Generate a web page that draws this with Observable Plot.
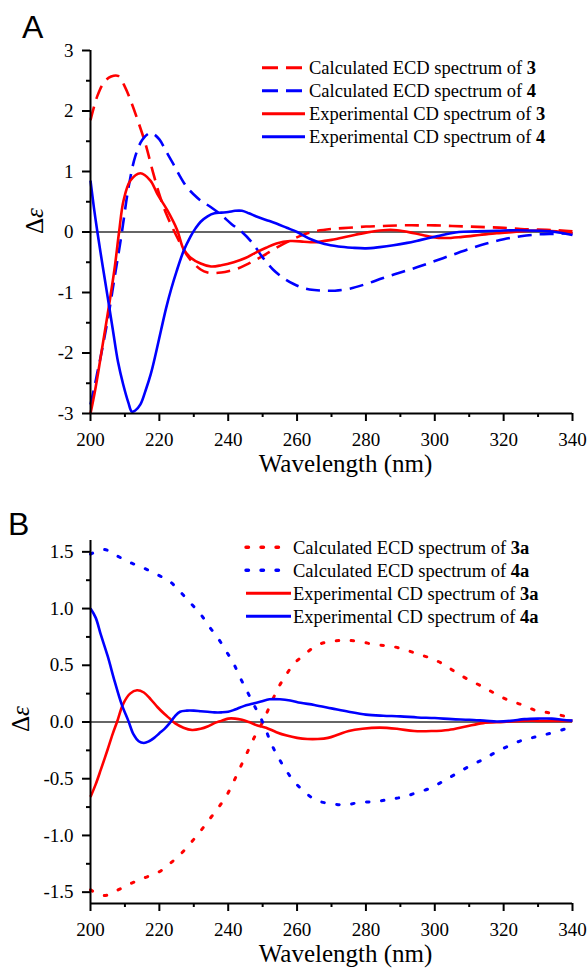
<!DOCTYPE html>
<html><head><meta charset="utf-8">
<script src="https://cdn.jsdelivr.net/npm/d3@7"></script>
<script src="https://cdn.jsdelivr.net/npm/@observablehq/plot@0.6"></script>
<style>
body{margin:0;background:#fff}
#wrap{position:relative;width:588px;height:971px;overflow:hidden;background:#fff}
.panel{position:absolute;left:0}
</style>
</head><body><div id="wrap"></div>
<script>
// ---------- axis ticks ----------
const xDomain = [200, 340];
const xMajor = [200, 220, 240, 260, 280, 300, 320, 340];
const xMinor = [210, 230, 250, 270, 290, 310, 330];
const xTitle = "Wavelength (nm)";
const yDomainA = [-3, 3];
const yMajorA = [-3, -2, -1, 0, 1, 2, 3];
const yMinorA = [-2.5, -1.5, -0.5, 0.5, 1.5, 2.5];
const yDomainB = [-1.6, 1.6];
const yMajorB = [-1.5, -1.0, -0.5, 0.0, 0.5, 1.0, 1.5];
const yMinorB = [-1.25, -0.75, -0.25, 0.25, 0.75, 1.25];

// ---------- Panel A data ----------
const wA_calc3 = [200,202,204,206,208,210,212,214,216,218,220,222,224,226,228,230,232,234,236,238,240,243,246,250,254,258,262,266,270,275,280,285,290,295,300,305,310,315,320,325,330,335,340];
const vA_calc3 = [1.85,2.25,2.48,2.57,2.58,2.40,2.12,1.80,1.45,1.02,0.62,0.30,0.05,-0.18,-0.38,-0.52,-0.62,-0.67,-0.68,-0.67,-0.65,-0.60,-0.52,-0.40,-0.26,-0.14,-0.04,0.02,0.05,0.07,0.09,0.10,0.11,0.11,0.11,0.10,0.09,0.08,0.07,0.05,0.04,0.03,0.01];

const wA_calc4 = [200,201,202,203,205,207,209,211,213,215,217,218,220,222,224,226,228,230,232,235,238,241,244,247,250,253,256,259,262,265,268,271,275,280,285,290,295,300,305,310,315,320,325,330,335,340];
const vA_calc4 = [-2.85,-2.6,-2.32,-2.05,-1.45,-0.75,-0.05,0.72,1.25,1.52,1.63,1.63,1.53,1.33,1.13,0.92,0.74,0.62,0.52,0.41,0.28,0.13,0.0,-0.18,-0.42,-0.62,-0.76,-0.86,-0.93,-0.96,-0.97,-0.97,-0.94,-0.86,-0.76,-0.67,-0.58,-0.48,-0.38,-0.28,-0.19,-0.12,-0.07,-0.04,-0.03,-0.02];

const wA_exp3 = [200,201,202,203,205,207,208.3,209.6,211.6,214.5,217.4,219.4,222.3,225.2,227,229,232,235,238,241.6,245,248,251,254,258,262,265,270,275,280,285,289,294,299,303,308,313,318,323,328,333,337,340];
const vA_exp3 = [-3.0,-2.72,-2.4,-2.05,-1.35,-0.6,0.0,0.52,0.85,0.97,0.85,0.63,0.36,0.03,-0.28,-0.42,-0.52,-0.57,-0.55,-0.5,-0.43,-0.34,-0.26,-0.19,-0.15,-0.16,-0.17,-0.13,-0.07,-0.01,0.03,0.03,-0.02,-0.08,-0.1,-0.08,-0.05,-0.02,0.0,0.02,0.02,0.0,-0.02];

const wA_exp4 = [200,201,202,203.5,205,206.5,208,209.5,211,212,213,214.5,216,217.5,219,220.5,222,223.5,225,227,229,230.5,232,234,236,238,240,242,244,246,248,251,254,257,260,264,268,272,276,280,284,288,292,296,300,304,307,312,318,324,330,335,340];
const vA_exp4 = [0.85,0.4,0.0,-0.55,-1.08,-1.62,-2.15,-2.52,-2.82,-2.97,-2.95,-2.85,-2.62,-2.35,-2.0,-1.62,-1.25,-0.93,-0.65,-0.32,-0.08,0.06,0.17,0.26,0.31,0.32,0.33,0.35,0.35,0.31,0.26,0.2,0.14,0.07,0.0,-0.12,-0.2,-0.24,-0.26,-0.27,-0.25,-0.22,-0.18,-0.13,-0.08,-0.03,0.0,0.01,0.02,0.03,0.02,0.0,-0.05];

// ---------- Panel B data ----------
const wB_calc3a = [200,204,208,212,216,220,223,226,229,232,234.5,237,239.5,241.5,243.5,245.5,247.5,250,252.5,254.5,256.5,259,262,266,270,274,278,283,287,291,295,299,302.5,306,310,314,317.5,321.5,325.5,329.5,333.5,338,340];
const vB_calc3a = [-1.48,-1.53,-1.48,-1.42,-1.37,-1.32,-1.25,-1.17,-1.07,-0.96,-0.86,-0.76,-0.65,-0.53,-0.40,-0.27,-0.14,0.0,0.17,0.30,0.40,0.51,0.59,0.68,0.71,0.72,0.71,0.68,0.67,0.64,0.60,0.56,0.51,0.44,0.37,0.31,0.25,0.19,0.15,0.10,0.08,0.05,0.04];

const wB_calc4a = [200,204,208,212,216,220,223,226,229,232,234.5,237,239.5,241.5,243.5,245.5,247.5,250,252.5,254.5,256.5,259,262,265.5,270,274,278,283,287,291,295,299,302.5,306,310,314,317.5,321.5,325.5,329.5,333.5,338,340];
const vB_calc4a = [1.48,1.52,1.46,1.40,1.35,1.29,1.24,1.15,1.05,0.95,0.84,0.74,0.62,0.52,0.39,0.27,0.15,0.0,-0.19,-0.31,-0.41,-0.52,-0.61,-0.69,-0.72,-0.73,-0.71,-0.70,-0.68,-0.66,-0.62,-0.58,-0.52,-0.46,-0.39,-0.33,-0.27,-0.21,-0.16,-0.13,-0.10,-0.06,-0.04];

const wB_exp3a = [200,201.5,203,205,206.5,207.7,209.5,211.5,213.5,215.5,217.5,219.5,221.5,223,224.5,227,229.5,232,234,236,238,240,242,244,246,248.5,251,254,257,260,263,266,269,272,275,279,284,289,294,299,304,309,314,320,325,330,335,340];
const vB_exp3a = [-0.66,-0.55,-0.42,-0.24,-0.1,0.0,0.16,0.25,0.28,0.26,0.2,0.13,0.07,0.03,-0.01,-0.05,-0.07,-0.06,-0.04,-0.01,0.01,0.03,0.03,0.02,0.0,-0.03,-0.05,-0.09,-0.12,-0.14,-0.15,-0.15,-0.14,-0.11,-0.08,-0.06,-0.05,-0.06,-0.08,-0.08,-0.07,-0.04,-0.01,0.0,0.01,0.01,0.01,0.01];

const wB_exp4a = [200,201.5,203,205,207,209,211,212.5,214,215.5,217,218.5,220,221.5,223,224.5,226,228,230,232,234,236,238,240,242,244.5,247,249.5,252,255,258,261,265,270,275,280,285,290,295,300,305,310,315,318,322,326,330,334,337,340];
const vB_exp4a = [1.0,0.92,0.77,0.58,0.36,0.16,0.01,-0.11,-0.17,-0.185,-0.17,-0.14,-0.1,-0.06,-0.01,0.05,0.09,0.1,0.1,0.095,0.09,0.085,0.085,0.09,0.11,0.14,0.16,0.18,0.2,0.2,0.19,0.17,0.15,0.12,0.09,0.065,0.055,0.05,0.04,0.035,0.025,0.02,0.01,0.005,0.01,0.025,0.03,0.03,0.02,0.012];

// ---------- legends ----------
const legendTextA = ["Calculated ECD spectrum of ", "Calculated ECD spectrum of ", "Experimental CD spectrum of ", "Experimental CD spectrum of "];
const legendBoldA = ["3", "4", "3", "4"];
const legendTextB = ["Calculated ECD spectrum of ", "Calculated ECD spectrum of ", "Experimental CD spectrum of ", "Experimental CD spectrum of "];
const legendBoldB = ["3a", "4a", "3a", "4a"];

const RED = "#ff0000", BLUE = "#0000ff";
const DASH = "14,8", DOT = "2.5,12.5";
const SERIF = "'Liberation Serif', 'Times New Roman', serif";

function seriesData(ws, vs) { return ws.map((w, i) => ({w, v: vs[i]})); }

const styleA = [
  {color: RED, dash: DASH, width: 2.6, cap: "butt"},
  {color: BLUE, dash: DASH, width: 2.6, cap: "butt"},
  {color: RED, dash: null, width: 2.6, cap: "butt"},
  {color: BLUE, dash: null, width: 2.6, cap: "butt"}
];
const styleB = [
  {color: RED, dash: DOT, width: 3, cap: "round"},
  {color: BLUE, dash: DOT, width: 3, cap: "round"},
  {color: RED, dash: null, width: 2.6, cap: "butt"},
  {color: BLUE, dash: null, width: 2.6, cap: "butt"}
];

const seriesA = [seriesData(wA_calc3, vA_calc3), seriesData(wA_calc4, vA_calc4), seriesData(wA_exp3, vA_exp3), seriesData(wA_exp4, vA_exp4)];
const seriesB = [seriesData(wB_calc3a, vB_calc3a), seriesData(wB_calc4a, vB_calc4a), seriesData(wB_exp3a, vB_exp3a), seriesData(wB_exp4a, vB_exp4a)];

function makePanel(yDomain, yMajor, yMinor, fmt, series, styles) {
  const svg = Plot.plot({
    width: 588, height: 490,
    marginLeft: 90, marginRight: 16, marginTop: 50, marginBottom: 77,
    x: {domain: xDomain},
    y: {domain: yDomain},
    style: {fontFamily: SERIF, fontSize: "19px", color: "black", background: "white"},
    marks: [
      Plot.ruleY([0], {stroke: "#333", strokeWidth: 1.6}),
      ...series.map((d, i) => Plot.line(d, {
        x: "w", y: "v", stroke: styles[i].color, strokeWidth: styles[i].width,
        strokeDasharray: styles[i].dash || undefined, strokeLinecap: styles[i].cap,
        strokeLinejoin: "round", curve: "catmull-rom"
      })),
      Plot.ruleX([xDomain[0]], {stroke: "black", strokeWidth: 2}),
      Plot.ruleY([yDomain[0]], {stroke: "black", strokeWidth: 2}),
      Plot.axisX({ticks: xMajor, tickSize: 8, tickPadding: 11, tickFormat: d => String(d), label: null, strokeWidth: 2, fontFamily: SERIF}),
      Plot.axisX({ticks: xMinor, tickSize: 4, tickFormat: () => "", label: null, strokeWidth: 2}),
      Plot.axisY({ticks: yMajor, tickSize: 8, tickPadding: 9, tickFormat: fmt, label: null, strokeWidth: 2, fontFamily: SERIF}),
      Plot.axisY({ticks: yMinor, tickSize: 4, tickFormat: () => "", label: null, strokeWidth: 2}),
      Plot.text([xTitle], {frameAnchor: "bottom", dx: 14, dy: 58, fontSize: 25, fontFamily: SERIF})
    ]
  });
  svg.style.fontFamily = SERIF;
  d3.select(svg).selectAll("text").style("font-family", SERIF);
  return svg;
}

const wrap = document.getElementById("wrap");
const pA = makePanel(yDomainA, yMajorA, yMinorA, d => String(d), seriesA, styleA);
pA.classList.add("panel"); pA.style.top = "0px";
wrap.appendChild(pA);
const pB = makePanel(yDomainB, yMajorB, yMinorB, d => d.toFixed(1), seriesB, styleB);
pB.classList.add("panel"); pB.style.top = "490px";
wrap.appendChild(pB);

// ---------- overlay: panel letters, y labels, legends ----------
const ov = d3.select(wrap).append("svg")
  .attr("width", 588).attr("height", 971)
  .style("position", "absolute").style("left", 0).style("top", 0);

const letters = [{t: "A", x: 22, y: 38}, {t: "B", x: 8, y: 535}];
letters.forEach(l => ov.append("text").attr("x", l.x).attr("y", l.y)
  .style("font-family", "'Liberation Sans', Arial, sans-serif").attr("font-size", 32).text(l.t));

[{x: 43, y: 221}, {x: 29, y: 719}].forEach(p => {
  const t = ov.append("text").attr("transform", `translate(${p.x},${p.y}) rotate(-90)`)
    .attr("text-anchor", "middle").style("font-family", SERIF).attr("font-size", 25);
  t.append("tspan").text("Δ");
  t.append("tspan").attr("font-style", "italic").text("ε");
});

function legend(x1, x2, tx, y0, dy, texts, bolds, styles) {
  texts.forEach((txt, i) => {
    const by = y0 + i * dy;
    ov.append("line").attr("x1", x1).attr("x2", x2).attr("y1", by - 6.3).attr("y2", by - 6.3)
      .attr("stroke", styles[i].color).attr("stroke-width", styles[i].width + 0.4)
      .attr("stroke-dasharray", styles[i].dash ? (styles[i].dash === DASH ? "16,8" : "2.5,12.5") : null)
      .attr("stroke-linecap", styles[i].cap);
    const t = ov.append("text").attr("x", tx).attr("y", by)
      .style("font-family", SERIF).attr("font-size", 18.5);
    t.append("tspan").text(txt);
    t.append("tspan").attr("font-weight", "bold").text(bolds[i]);
  });
}
legend(262, 305, 309, 74, 23, legendTextA, legendBoldA, styleA);
legend(246, 291, 293, 553.5, 23, legendTextB, legendBoldB, styleB);
</script>
</body></html>
